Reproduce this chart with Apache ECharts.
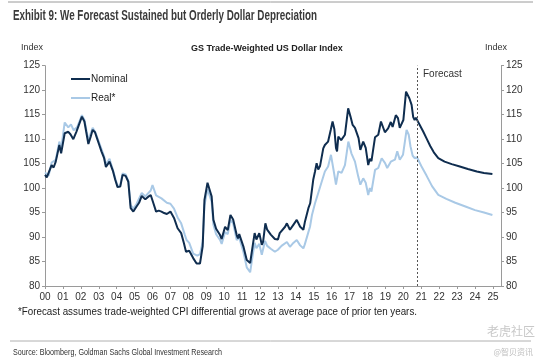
<!DOCTYPE html>
<html><head><meta charset="utf-8">
<script src="https://cdn.jsdelivr.net/npm/echarts@6/dist/echarts.min.js"></script>
<style>html,body{margin:0;padding:0;background:#fff}#c{width:541px;height:361px}</style>
</head><body><div id="c"></div>
<script>
// ---- DATA ----
const xTickLabels = ['00','01','02','03','04','05','06','07','08','09','10','11','12','13','14','15','16','17','18','19','20','21','22','23','24','25'];
const yTicks = [80,85,90,95,100,105,110,115,120,125];

const nominalYears = [2000.0,2000.1,2000.2,2000.37,2000.48,2000.6,2000.8,2000.9,2001.1,2001.3,2001.42,2001.58,2001.75,2001.86,2002.06,2002.2,2002.3,2002.42,2002.55,2002.66,2002.79,2002.9,2003.03,2003.15,2003.3,2003.4,2003.6,2003.8,2003.92,2004.05,2004.2,2004.33,2004.5,2004.65,2004.78,2004.93,2005.1,2005.25,2005.4,2005.6,2005.75,2005.9,2006.05,2006.2,2006.35,2006.5,2006.65,2006.8,2007.0,2007.2,2007.4,2007.6,2007.75,2007.87,2008.05,2008.27,2008.46,2008.65,2008.8,2008.9,2009.0,2009.07,2009.2,2009.3,2009.4,2009.55,2009.77,2009.86,2010.05,2010.2,2010.35,2010.5,2010.7,2010.77,2010.84,2011.07,2011.26,2011.35,2011.45,2011.6,2011.7,2011.8,2011.96,2012.1,2012.17,2012.3,2012.4,2012.6,2012.83,2013.0,2013.1,2013.2,2013.4,2013.5,2013.67,2013.86,2014.05,2014.24,2014.42,2014.5,2014.7,2014.8,2014.97,2015.07,2015.16,2015.25,2015.35,2015.53,2015.62,2015.68,2015.8,2015.95,2016.05,2016.15,2016.24,2016.3,2016.37,2016.53,2016.74,2016.92,2017.05,2017.17,2017.3,2017.5,2017.6,2017.76,2017.9,2018.04,2018.13,2018.22,2018.42,2018.6,2018.75,2018.86,2018.97,2019.15,2019.3,2019.4,2019.58,2019.7,2019.8,2019.9,2020.0,2020.15,2020.25,2020.34,2020.46,2020.55,2020.63,2020.7,2020.76];
const nominalValues = [102.7,102.2,101.8,104.7,104.2,105.4,108.8,107.1,111.2,111.5,111.0,110.0,111.5,111.9,114.6,113.6,111.5,109.0,110.5,111.9,111.4,110.2,108.8,107.5,106.1,104.3,105.4,103.4,101.7,100.2,100.3,102.7,102.5,101.3,95.9,95.2,96.2,97.0,98.4,97.7,98.2,98.6,96.9,95.2,95.4,95.2,94.9,94.7,95.2,93.9,91.8,90.8,88.8,87.0,87.2,85.7,84.6,84.6,88.1,97.6,97.3,101.1,99.5,98.3,93.5,91.7,90.4,89.6,92.1,91.4,94.5,93.6,90.4,89.7,90.6,88.1,85.3,85.1,84.7,88.4,90.8,89.5,90.8,88.4,89.0,92.8,91.5,90.5,89.6,89.5,90.8,90.8,92.1,92.8,91.5,92.5,93.5,92.1,91.5,93.0,95.9,96.9,101.7,103.4,105.1,103.8,104.5,108.1,108.8,109.2,109.5,111.9,113.6,112.0,108.2,107.5,110.5,109.8,110.9,116.3,114.6,112.9,112.3,110.2,107.8,109.5,108.2,104.7,106.0,105.5,110.4,110.9,113.6,113.3,111.4,112.2,113.5,112.5,114.9,114.3,112.3,112.6,113.9,119.7,119.6,118.3,117.0,114.5,113.9,114.4,114.0];
const nominalForecastYears = [2020.9,2021.1,2021.3,2021.5,2021.7,2021.95,2022.3,2022.7,2023.15,2023.6,2024.1,2024.5,2024.97];
const nominalForecastValues = [113.0,111.6,110.1,108.6,107.3,106.1,105.4,104.9,104.4,103.9,103.4,103.1,102.9];

const realYears = [2000.0,2000.2,2000.37,2000.6,2000.8,2000.9,2001.1,2001.3,2001.45,2001.6,2001.8,2002.06,2002.2,2002.42,2002.66,2002.8,2003.03,2003.3,2003.4,2003.6,2003.8,2003.92,2004.05,2004.2,2004.33,2004.5,2004.65,2004.78,2004.93,2005.1,2005.4,2005.6,2005.9,2006.0,2006.2,2006.5,2006.8,2007.0,2007.2,2007.4,2007.6,2007.8,2007.9,2008.05,2008.27,2008.5,2008.65,2008.8,2008.9,2009.0,2009.07,2009.3,2009.4,2009.55,2009.77,2009.86,2010.05,2010.2,2010.35,2010.5,2010.7,2010.84,2011.07,2011.26,2011.45,2011.6,2011.7,2011.8,2011.96,2012.1,2012.28,2012.4,2012.6,2012.83,2013.0,2013.2,2013.5,2013.67,2013.86,2014.05,2014.24,2014.42,2014.5,2014.7,2014.79,2014.9,2015.07,2015.25,2015.35,2015.62,2015.8,2015.96,2016.1,2016.24,2016.37,2016.55,2016.74,2016.93,2017.1,2017.3,2017.48,2017.6,2017.76,2017.9,2018.04,2018.13,2018.22,2018.42,2018.6,2018.79,2018.98,2019.1,2019.3,2019.53,2019.66,2019.8,2019.98,2020.18,2020.3,2020.4,2020.52,2020.64,2020.76];
const realValues = [103.2,102.5,105.2,105.8,109.5,108.0,113.4,112.4,113.0,111.8,112.5,114.9,113.9,109.8,112.3,111.5,109.2,106.5,104.8,106.0,103.6,102.0,100.4,100.6,103.0,102.8,101.5,96.5,95.8,96.7,99.0,98.3,99.5,100.6,98.5,97.9,97.0,96.8,95.8,94.0,92.8,90.5,89.4,88.8,86.6,86.2,86.5,89.0,96.5,96.8,99.8,97.2,92.5,90.6,89.4,88.6,91.0,90.6,93.5,92.8,89.4,89.8,87.0,83.8,82.8,86.5,88.8,87.7,88.6,86.4,89.2,88.2,87.6,87.0,87.4,88.2,89.0,88.0,88.8,89.4,88.3,87.7,88.5,91.0,92.1,94.5,96.9,99.0,98.7,103.4,104.4,106.8,103.8,100.7,103.4,103.1,104.7,109.5,107.1,105.4,102.4,100.7,102.0,101.1,98.6,100.0,99.3,103.7,104.1,106.1,105.1,104.1,105.4,105.8,107.5,105.8,106.8,111.9,110.9,108.5,106.6,106.1,106.3];
const realForecastYears = [2021.0,2021.3,2021.6,2021.95,2022.4,2022.9,2023.5,2024.0,2024.5,2024.97];
const realForecastValues = [104.5,102.5,100.4,98.6,97.8,97.0,96.2,95.5,95.0,94.5];

const forecastStart = 2020.76;

// ---- BUILD ----
const pair = (xs, ys) => xs.map((x, i) => [x, ys[i]]);
const nominalData = pair(nominalYears.concat(nominalForecastYears), nominalValues.concat(nominalForecastValues));
const realData = pair(realYears.concat(realForecastYears), realValues.concat(realForecastValues));

const AX = '#9a9a9a', TXT = '#333';
const FONT = '"Liberation Sans", Arial, sans-serif';
const ctx = document.createElement('canvas').getContext('2d');
function fitScale(text, font, width) { ctx.font = font; return width / ctx.measureText(text).width; }

const titleText = 'Exhibit 9: We Forecast Sustained but Orderly Dollar Depreciation';
const titleFont = 'bold 14px ' + FONT;
const sourceText = 'Source: Bloomberg, Goldman Sachs Global Investment Research';
const sourceFont = '9px ' + FONT;
const noteText = '*Forecast assumes trade-weighted CPI differential grows at average pace of prior ten years.';
const noteFont = '10px ' + FONT;

const yAxisBase = {
  type: 'value', min: 80, max: 125, interval: 5,
  axisLine: {show: true, lineStyle: {color: AX}},
  axisTick: {show: true, length: 3, lineStyle: {color: AX}},
  splitLine: {show: false},
  axisLabel: {color: TXT, fontSize: 10, fontFamily: FONT, margin: 5}
};

const chart = echarts.init(document.getElementById('c'), null, {renderer: 'canvas'});
chart.setOption({
  animation: false,
  backgroundColor: '#fff',
  grid: {left: 45, right: 40, top: 65.7, bottom: 75},
  xAxis: {
    type: 'value', min: 2000, max: 2025.45, interval: 1,
    axisLine: {lineStyle: {color: AX}},
    axisTick: {show: true, length: 3, lineStyle: {color: AX}},
    splitLine: {show: false},
    axisLabel: {
      color: TXT, fontSize: 10, fontFamily: FONT, margin: 6, showMaxLabel: false,
      formatter: v => { const i = Math.round(v - 2000); return Math.abs(v - 2000 - i) < 1e-6 && xTickLabels[i] ? xTickLabels[i] : ''; }
    }
  },
  yAxis: [
    Object.assign({}, yAxisBase, {position: 'left'}),
    Object.assign({}, yAxisBase, {position: 'right'})
  ],
  legend: {
    orient: 'vertical', left: 66, top: 69, itemWidth: 19, itemHeight: 2, itemGap: 9, icon: 'rect',
    textStyle: {color: '#222', fontSize: 10, fontFamily: FONT, padding: [0, 0, 0, -4]},
    data: ['Nominal', 'Real*']
  },
  series: [
    {
      name: 'Real*', type: 'line', data: realData, symbol: 'none', z: 2,
      lineStyle: {color: '#a9c9e6', width: 2}, itemStyle: {color: '#a9c9e6'}
    },
    {
      name: 'Nominal', type: 'line', data: nominalData, symbol: 'none', z: 3,
      lineStyle: {color: '#0f2d4f', width: 2}, itemStyle: {color: '#0f2d4f'},
      markLine: {
        silent: true, symbol: 'none', label: {show: false},
        lineStyle: {type: [2, 2], color: '#555', width: 1},
        data: [{xAxis: forecastStart}]
      }
    }
  ],
  graphic: [
    {type: 'line', shape: {x1: 8, y1: 2, x2: 533, y2: 2}, style: {stroke: '#9a9a9a', lineWidth: 1}},
    {type: 'text', x: 13, y: 9, scaleX: fitScale(titleText, titleFont, 304), style: {text: titleText, font: titleFont, fill: '#3a3a3a'}},
    {type: 'text', left: 21, top: 43, style: {text: 'Index', font: '9px ' + FONT, fill: '#333'}},
    {type: 'text', left: 485, top: 43, style: {text: 'Index', font: '9px ' + FONT, fill: '#333'}},
    {type: 'text', left: 191, top: 44, style: {text: 'GS Trade-Weighted US Dollar Index', font: 'bold 9px ' + FONT, fill: '#222'}},
    {type: 'text', left: 423, top: 69, style: {text: 'Forecast', font: '10px ' + FONT, fill: '#333'}},
    {type: 'text', x: 18, y: 307, scaleX: fitScale(noteText, noteFont, 399), style: {text: noteText, font: noteFont, fill: '#222'}},
    {type: 'text', right: 6, top: 325, style: {text: '老虎社区', font: '12px "Noto Sans CJK SC"', fill: '#c8c8c8'}},
    {type: 'line', shape: {x1: 10, y1: 341, x2: 531, y2: 341}, style: {stroke: '#b0b0b0', lineWidth: 1}},
    {type: 'text', x: 13, y: 348, scaleX: fitScale(sourceText, sourceFont, 209), style: {text: sourceText, font: sourceFont, fill: '#333'}},
    {type: 'text', right: 8, top: 348, style: {text: '@智贝资讯', font: '8px "Noto Sans CJK SC"', fill: '#bdbdbd'}}
  ]
});
</script></body></html>
